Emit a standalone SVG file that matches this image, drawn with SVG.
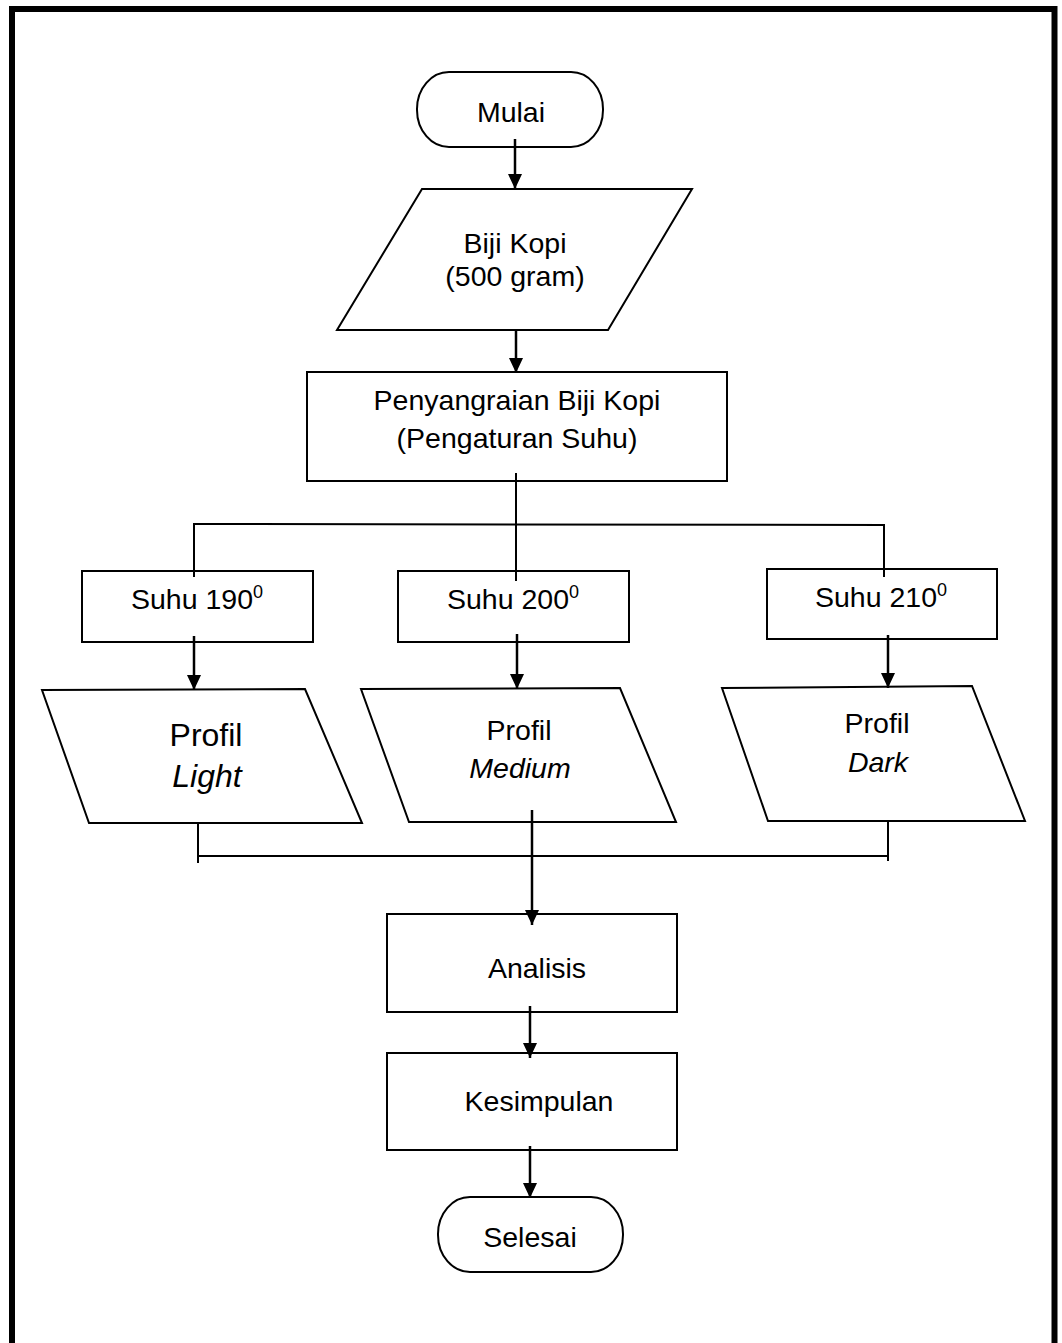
<svg xmlns="http://www.w3.org/2000/svg" width="1062" height="1343" viewBox="0 0 1062 1343">
<style>
.shape{fill:#fff;stroke:#000;stroke-width:2}
.t{font-family:"Liberation Sans",Arial,sans-serif;font-size:28.5px;fill:#000;text-anchor:middle}
.ts{font-family:"Liberation Sans",Arial,sans-serif;font-size:28.5px;fill:#000}
.big{font-size:32px}
.it{font-style:italic}
.ln{fill:none;stroke:#000;stroke-width:2}
.ar{fill:none;stroke:#000;stroke-width:2.5;marker-end:url(#ah)}
</style>
<defs>
<marker id="ah" markerUnits="userSpaceOnUse" markerWidth="15" markerHeight="14" refX="15" refY="7" orient="auto">
<path d="M0,0 L15,7 L0,14 z" fill="#000"/>
</marker>
</defs>
<rect x="0" y="0" width="1062" height="1343" fill="#fff"/>
<rect x="12" y="9" width="1042.5" height="1400" fill="none" stroke="#000" stroke-width="6"/>

<g id="n-mulai">
<rect class="shape" x="417" y="72" width="186" height="75" rx="32" ry="37"/>
<text class="t" x="511" y="122">Mulai</text>
</g>
<g id="n-biji">
<polygon class="shape" points="422,189 692,189 608,330 337,330"/>
<text class="t" x="515" y="253">Biji Kopi</text>
<text class="t" x="515" y="286">(500 gram)</text>
</g>
<g id="n-penyangraian">
<rect class="shape" x="307" y="372" width="420" height="109"/>
<text class="t" x="517" y="410">Penyangraian Biji Kopi</text>
<text class="t" x="517" y="448">(Pengaturan Suhu)</text>
</g>
<g id="n-suhu190">
<rect class="shape" x="82" y="571" width="231" height="71"/>
<text class="ts" x="131" y="609">Suhu 190<tspan dy="-11" font-size="18">0</tspan></text>
</g>
<g id="n-suhu200">
<rect class="shape" x="398" y="571" width="231" height="71"/>
<text class="ts" x="447" y="609">Suhu 200<tspan dy="-11" font-size="18">0</tspan></text>
</g>
<g id="n-suhu210">
<rect class="shape" x="767" y="569" width="230" height="70"/>
<text class="ts" x="815" y="607">Suhu 210<tspan dy="-11" font-size="18">0</tspan></text>
</g>
<g id="n-light">
<polygon class="shape" points="42,690 305,689 362,823 89,823"/>
<text class="t big" x="206" y="746">Profil</text>
<text class="t big it" x="207" y="787">Light</text>
</g>
<g id="n-medium">
<polygon class="shape" points="361,689 620,688 676,822 409,822"/>
<text class="t" x="519" y="740">Profil</text>
<text class="t it" x="520" y="778">Medium</text>
</g>
<g id="n-dark">
<polygon class="shape" points="722,688 972,686 1025,821 768,821"/>
<text class="t" x="877" y="733">Profil</text>
<text class="t it" x="878" y="772">Dark</text>
</g>
<g id="n-analisis">
<rect class="shape" x="387" y="914" width="290" height="98"/>
<text class="t" x="537" y="978">Analisis</text>
</g>
<g id="n-kesimpulan">
<rect class="shape" x="387" y="1053" width="290" height="97"/>
<text class="t" x="539" y="1111">Kesimpulan</text>
</g>
<g id="n-selesai">
<rect class="shape" x="438" y="1197" width="185" height="75" rx="32" ry="37"/>
<text class="t" x="530" y="1247">Selesai</text>
</g>

<g id="connectors">
<line class="ar" x1="515" y1="139" x2="515" y2="189"/>
<line class="ar" x1="516" y1="330" x2="516" y2="373"/>
<line class="ln" x1="516" y1="473" x2="516" y2="581"/>
<polyline class="ln" points="194,577 194,524 884,525 884,577"/>
<line class="ar" x1="194" y1="636" x2="194" y2="690"/>
<line class="ar" x1="517" y1="634" x2="517" y2="689"/>
<line class="ar" x1="888" y1="635" x2="888" y2="688"/>
<line class="ln" x1="198" y1="823" x2="198" y2="863"/>
<line class="ln" x1="888" y1="821" x2="888" y2="861"/>
<line class="ln" x1="198" y1="856" x2="888" y2="856"/>
<line class="ar" x1="532" y1="810" x2="532" y2="925"/>
<line class="ar" x1="530" y1="1006" x2="530" y2="1058"/>
<line class="ar" x1="530" y1="1146" x2="530" y2="1198"/>
</g>
</svg>
